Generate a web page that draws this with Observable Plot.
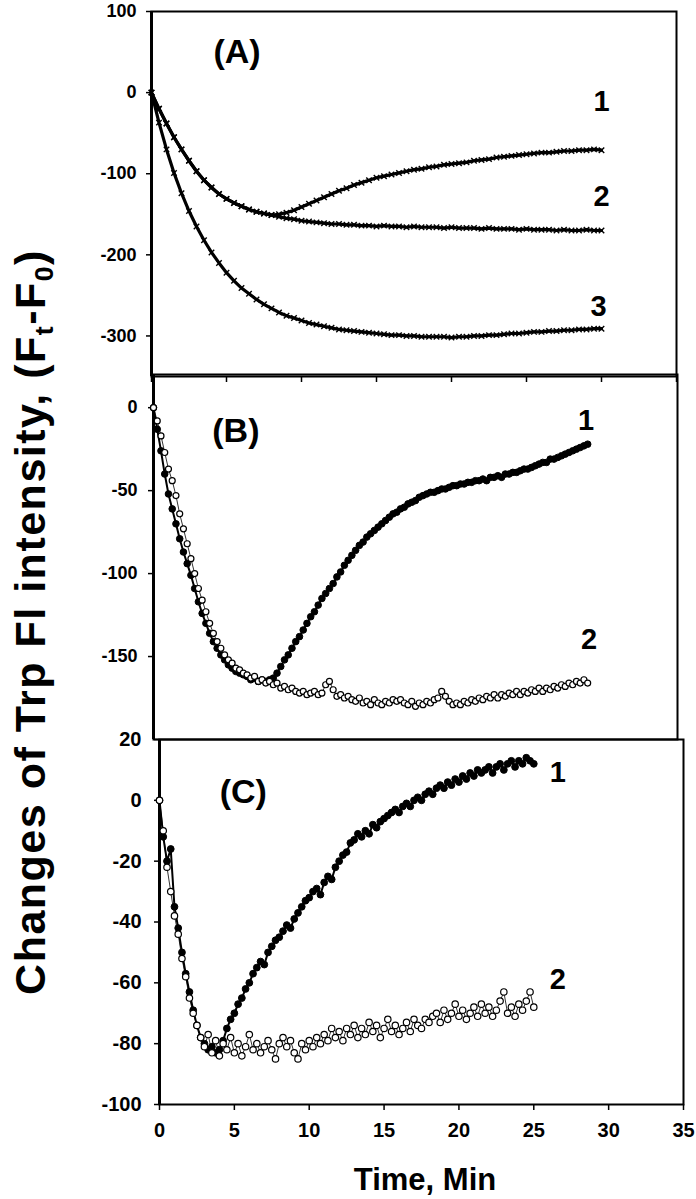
<!DOCTYPE html>
<html><head><meta charset="utf-8">
<script src="https://cdn.jsdelivr.net/npm/d3@7"></script>
<script src="https://cdn.jsdelivr.net/npm/@observablehq/plot@0.6"></script>
<style>
body{margin:0;background:#fff;}
#wrap{position:relative;width:696px;height:1199px;overflow:hidden;font-family:"Liberation Sans",Arial,sans-serif;color:#000;}
#wrap svg{position:absolute;left:0;background:transparent;overflow:visible;}
.ylab{position:absolute;width:900px;height:48px;line-height:48px;font-size:43px;letter-spacing:1.5px;font-weight:bold;text-align:center;white-space:nowrap;transform:rotate(-90deg);}
.ylab sub{font-size:0.62em;vertical-align:-0.3em;line-height:0;}
.xlab{position:absolute;width:300px;height:31px;line-height:31px;font-size:31px;font-weight:bold;text-align:center;white-space:nowrap;}
</style></head>
<body><div id="wrap"></div>
<script>
// ---------- data ----------
const stepA = 0.5;    // minutes between samples, panel A
const stepBC = 0.25;  // minutes between samples, panels B and C

const curveA1 = [0,-20,-38,-55,-70,-84,-97,-108,-117,-125,-131,-136,-140,-144,-147,-149,
  -151,-150,-148,-145,-141,-137,-133,-129,-125,-121,-118,-114,-111,-108,-105,-103,-101,-99,-97,-95,
  -94,-92,-91,-89,-88,-87,-86,-84,-83,-82,-80,-79,-78,-77,-76,-75,-74,-74,-73,-72,-72,-71,-71,-70,-71];
const curveA2 = [0,-20,-38,-55,-70,-84,-97,-108,-117,-125,-131,-136,-140,-144,-147,-149,-151,-153,-155,-156,-158,
  -159,-160,-161,-162,-162,-163,-163,-164,-164,-165,-164,-165,-165,-166,-165,-166,-166,-166,-167,-166,
  -167,-167,-167,-168,-167,-168,-168,-168,-169,-168,-169,-169,-169,-170,-169,-170,-170,-169,-170,-170];
const curveA3 = [0,-37,-70,-99,-124,-146,-165,-182,-197,-210,-222,-232,-241,-248,-255,-261,-266,-271,-275,-278,-281,
  -284,-286,-288,-290,-292,-293,-294,-295,-296,-297,-298,-299,-299,-300,-300,-301,-301,-301,-301,-302,
  -301,-301,-300,-300,-299,-299,-298,-297,-297,-296,-295,-295,-294,-294,-293,-293,-292,-292,-291,-291];

const seriesB1 = [0,-13,-26,-40,-52,-61,-70,-79,-87,-94,-101,-109,-117,-124,-130,-136,-141,-145,-149,-152,
  -155,-157,-159,-160,-161,-162,-164,-163,-165,-164,-165,-164,-163,-160,-156,-152,-149,-145,-141,-138,
  -134,-130,-126,-123,-119,-115,-112,-109,-106,-102,-99,-95,-92,-89,-86,-83,-81,-78,-76,-74,
  -72,-70,-68,-66,-64,-63,-61,-60,-58,-57,-56,-54,-53,-52,-51,-51,-50,-49,-49,-48,
  -47,-47,-46,-46,-45,-45,-44,-44,-43,-44,-42,-42,-41,-42,-40,-40,-39,-39,-38,-37,
  -37,-36,-35,-34,-33,-33,-31,-31,-30,-29,-28,-27,-26,-25,-24,-23,-22];
const seriesB2 = [0,-8,-17,-27,-37,-44,-53,-64,-73,-82,-91,-100,-109,-116,-123,-130,-136,-141,-145,-149,
  -152,-154,-157,-158,-160,-161,-163,-162,-165,-164,-166,-165,-167,-166,-169,-168,-170,-169,-171,-172,
  -171,-173,-172,-171,-173,-172,-167,-165,-170,-174,-173,-175,-174,-176,-177,-175,-178,-177,-179,-176,
  -178,-179,-177,-178,-176,-177,-176,-178,-179,-177,-180,-178,-179,-177,-178,-176,-175,-171,-174,-177,
  -179,-178,-179,-177,-178,-176,-177,-175,-176,-174,-175,-173,-175,-173,-174,-172,-173,-171,-173,-171,
  -172,-170,-171,-169,-171,-169,-170,-168,-169,-167,-168,-166,-167,-165,-166,-164,-166];

const seriesC1 = [0,-12,-20,-16,-35,-42,-50,-57,-63,-69,-74,-78,-80,-82,-81,-83,-82,-79,-75,-72,
  -70,-67,-65,-62,-60,-57,-55,-53,-54,-50,-48,-46,-45,-43,-41,-42,-39,-37,-35,-33,
  -32,-30,-29,-31,-27,-25,-26,-22,-20,-18,-17,-14,-13,-11,-12,-10,-11,-8,-9,-7,
  -6,-5,-4,-3,-4,-2,-1,-2,0,1,0,2,3,2,4,5,4,6,5,7,
  6,8,7,9,8,10,9,10,11,9,11,12,10,12,13,11,13,12,14,13,12];
const seriesC2 = [0,-10,-22,-30,-38,-44,-52,-58,-65,-70,-74,-78,-81,-77,-83,-79,-84,-80,-82,-78,
  -83,-80,-84,-81,-77,-82,-80,-83,-81,-79,-82,-85,-80,-78,-81,-79,-83,-85,-80,-82,
  -79,-81,-78,-80,-77,-79,-75,-78,-76,-79,-75,-77,-74,-78,-75,-77,-73,-76,-74,-78,
  -75,-72,-76,-74,-77,-75,-73,-76,-72,-74,-75,-72,-73,-71,-70,-73,-69,-72,-70,-67,
  -71,-69,-72,-70,-68,-71,-67,-70,-68,-71,-69,-66,-63,-70,-68,-71,-67,-69,-66,-63,-68];

const ticksA = [100, 0, -100, -200, -300];
const ticksB = [0, -50, -100, -150];
const ticksC = [20, 0, -20, -40, -60, -80, -100];
const ticksX = [0, 5, 10, 15, 20, 25, 30, 35];
const panelLetters = ["(A)", "(B)", "(C)"];
const curveNames = ["1", "2", "3"];
const yTitle = 'Changes of Trp Fl intensity, (F<sub>t</sub>-F<sub>0</sub>)';
const xTitle = "Time, Min";

// ---------- helpers ----------
const rows = (arr, step) => arr.map((v, i) => ({t: i * step, v}));
const wrap = document.getElementById("wrap");
const FONT = "Liberation Sans, Arial, sans-serif";
const fmt = d => String(d);

function panel({top, height, ml, mr, mt, mb, ydom, yticks, fs, pad, xaxis, marks}) {
  const axes = [
    Plot.axisY({ticks: yticks, tickSize: 5, tickPadding: pad, tickFormat: fmt, label: null,
      fontSize: fs, fontWeight: "bold", strokeWidth: 1.5}),
  ];
  if (xaxis === "ticks") axes.push(Plot.axisX({ticks: ticksX, tickSize: 6, tickFormat: () => "", label: null, strokeWidth: 1.5}));
  if (xaxis === "labels") axes.push(Plot.axisX({ticks: ticksX, tickSize: 6, tickPadding: 12, tickFormat: fmt, label: null,
      fontSize: 20, fontWeight: "bold", strokeWidth: 1.5}));
  const svg = Plot.plot({
    width: 696, height,
    marginLeft: ml, marginRight: mr, marginTop: mt, marginBottom: mb,
    style: {background: "transparent", fontFamily: FONT, color: "black", overflow: "visible"},
    x: {domain: [0, 35], axis: xaxis === "none" ? null : undefined},
    y: {domain: ydom},
    marks: [
      ...axes,
      Plot.frame({stroke: "black", strokeWidth: 2}),
      Plot.ruleX([0], {stroke: "black", strokeWidth: 3}),
      ...marks
    ]
  });
  svg.style.top = top + "px";
  wrap.appendChild(svg);
}

const lab = (x, y, text, size) => Plot.text([{x, y, text}], {x: "x", y: "y", text: "text",
  fontSize: size, fontWeight: "bold", fill: "black", fontFamily: FONT});

// Panel A
const A1 = rows(curveA1, stepA), A2 = rows(curveA2, stepA), A3 = rows(curveA3, stepA);
const lineA = d => [
  Plot.line(d, {x: "t", y: "v", stroke: "black", strokeWidth: 3.2}),
  Plot.dot(d, {x: "t", y: "v", symbol: "times", r: 2.6, stroke: "black", strokeWidth: 1.4})
];
panel({top: 0, height: 392, ml: 151, mr: 20, mt: 11, mb: 16, ydom: [-350, 100], yticks: ticksA,
  fs: 18, pad: 10, xaxis: "ticks",
  marks: [...lineA(A1), ...lineA(A2), ...lineA(A3),
    lab(5.7, 50, panelLetters[0], 34),
    lab(30, -11, curveNames[0], 29), lab(30, -128, curveNames[1], 29), lab(29.8, -264, curveNames[2], 29)]});

// Panel B
const B1 = rows(seriesB1, stepBC), B2 = rows(seriesB2, stepBC);
const filled = (d, r) => [
  Plot.line(d, {x: "t", y: "v", stroke: "black", strokeWidth: 2}),
  Plot.dot(d, {x: "t", y: "v", r, fill: "black", stroke: "black", strokeWidth: 1})
];
const open = (d, r) => [
  Plot.line(d, {x: "t", y: "v", stroke: "black", strokeWidth: 0.8}),
  Plot.dot(d, {x: "t", y: "v", r, fill: "white", stroke: "black", strokeWidth: 1.2})
];
panel({top: 360, height: 395, ml: 153, mr: 19, mt: 14, mb: 16, ydom: [-200, 20], yticks: ticksB,
  fs: 18, pad: 11, xaxis: "none",
  marks: [...filled(B1, 3.3), ...open(B2, 3),
    lab(5.5, -14, panelLetters[1], 34),
    lab(28.9, -8, curveNames[0], 29), lab(29.1, -140, curveNames[1], 29)]});

// Panel C
const C1 = rows(seriesC1, stepBC), C2 = rows(seriesC2, stepBC);
panel({top: 725, height: 474, ml: 159, mr: 13, mt: 14, mb: 95, ydom: [-100, 20], yticks: ticksC,
  fs: 20, pad: 13, xaxis: "labels",
  marks: [...filled(C1, 3.4), ...open(C2, 3.2),
    lab(5.6, 2.6, panelLetters[2], 34),
    lab(26.6, 9.2, curveNames[0], 29), lab(26.6, -59, curveNames[1], 29)]});

// Titles
const yl = document.createElement("div");
yl.className = "ylab"; yl.innerHTML = yTitle;
yl.style.left = (30 - 450) + "px"; yl.style.top = (622 - 24) + "px";
wrap.appendChild(yl);
const xl = document.createElement("div");
xl.className = "xlab"; xl.textContent = xTitle;
xl.style.left = (425 - 150) + "px"; xl.style.top = "1164px";
wrap.appendChild(xl);
</script></body></html>
